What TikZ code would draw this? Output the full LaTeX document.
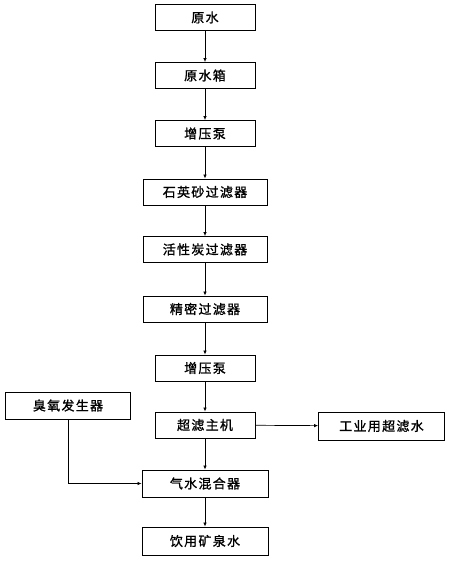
\documentclass[tikz,border=0pt]{standalone}
\usepackage{fontspec}
\newfontfamily\cjk[LetterSpace=10,FakeBold=1.2]{Noto Sans CJK SC}
\usetikzlibrary{arrows.meta,shadows}

\begin{document}
\begin{tikzpicture}[x=1pt,y=-1pt,
		box/.style={draw, line width=0.9pt, fill=white, inner sep=0pt,
			minimum height=26pt, font=\cjk\fontsize{13}{13}\selectfont,
			drop shadow={shadow xshift=0.8pt, shadow yshift=-0.8pt, fill=gray!70, opacity=1}},
		narrow/.style={box, minimum width=100pt},
		wide/.style={box, minimum width=124pt},
		flow/.style={-{Latex[length=4pt,width=3.5pt]}, line width=0.7pt}]
			\useasboundingbox (0,0) rectangle (450,562);
			
			% Main treatment chain
			\node[narrow] (raw) at (205,17.5) {原水};
			\node[narrow] (tank) at (205,75.5) {原水箱};
			\node[narrow] (pumpA) at (205,133.5) {增压泵};
			\node[wide] (sand) at (205,192) {石英砂过滤器};
			\node[wide] (carbon) at (205,249.5) {活性炭过滤器};
			\node[wide] (fine) at (205,309) {精密过滤器};
			\node[narrow] (pumpB) at (205,368) {增压泵};
			\node[narrow] (uf) at (205,425) {超滤主机};
			\node[box, minimum width=126pt, minimum height=27pt] (mixer) at (205,483.5) {气水混合器};
			\node[box, minimum width=126pt, minimum height=28pt] (drink) at (205,541) {饮用矿泉水};
			
			% Side branches
			\node[box, minimum width=126pt, minimum height=28pt] (indus) at (381.5,426) {工业用超滤水};
			\node[box, minimum width=125pt, minimum height=27pt] (ozone) at (68,405.5) {臭氧发生器};
			
			% Connect the chain
			\foreach \a/\b in {raw/tank, tank/pumpA, pumpA/sand, sand/carbon, carbon/fine,
				fine/pumpB, pumpB/uf, uf/mixer, mixer/drink}
			\draw[flow] (\a) -- (\b);
			
			\draw[flow] (uf) -- (indus);
			\draw[flow] (ozone.south) |- (mixer.west);
		\end{tikzpicture}
\end{document}
